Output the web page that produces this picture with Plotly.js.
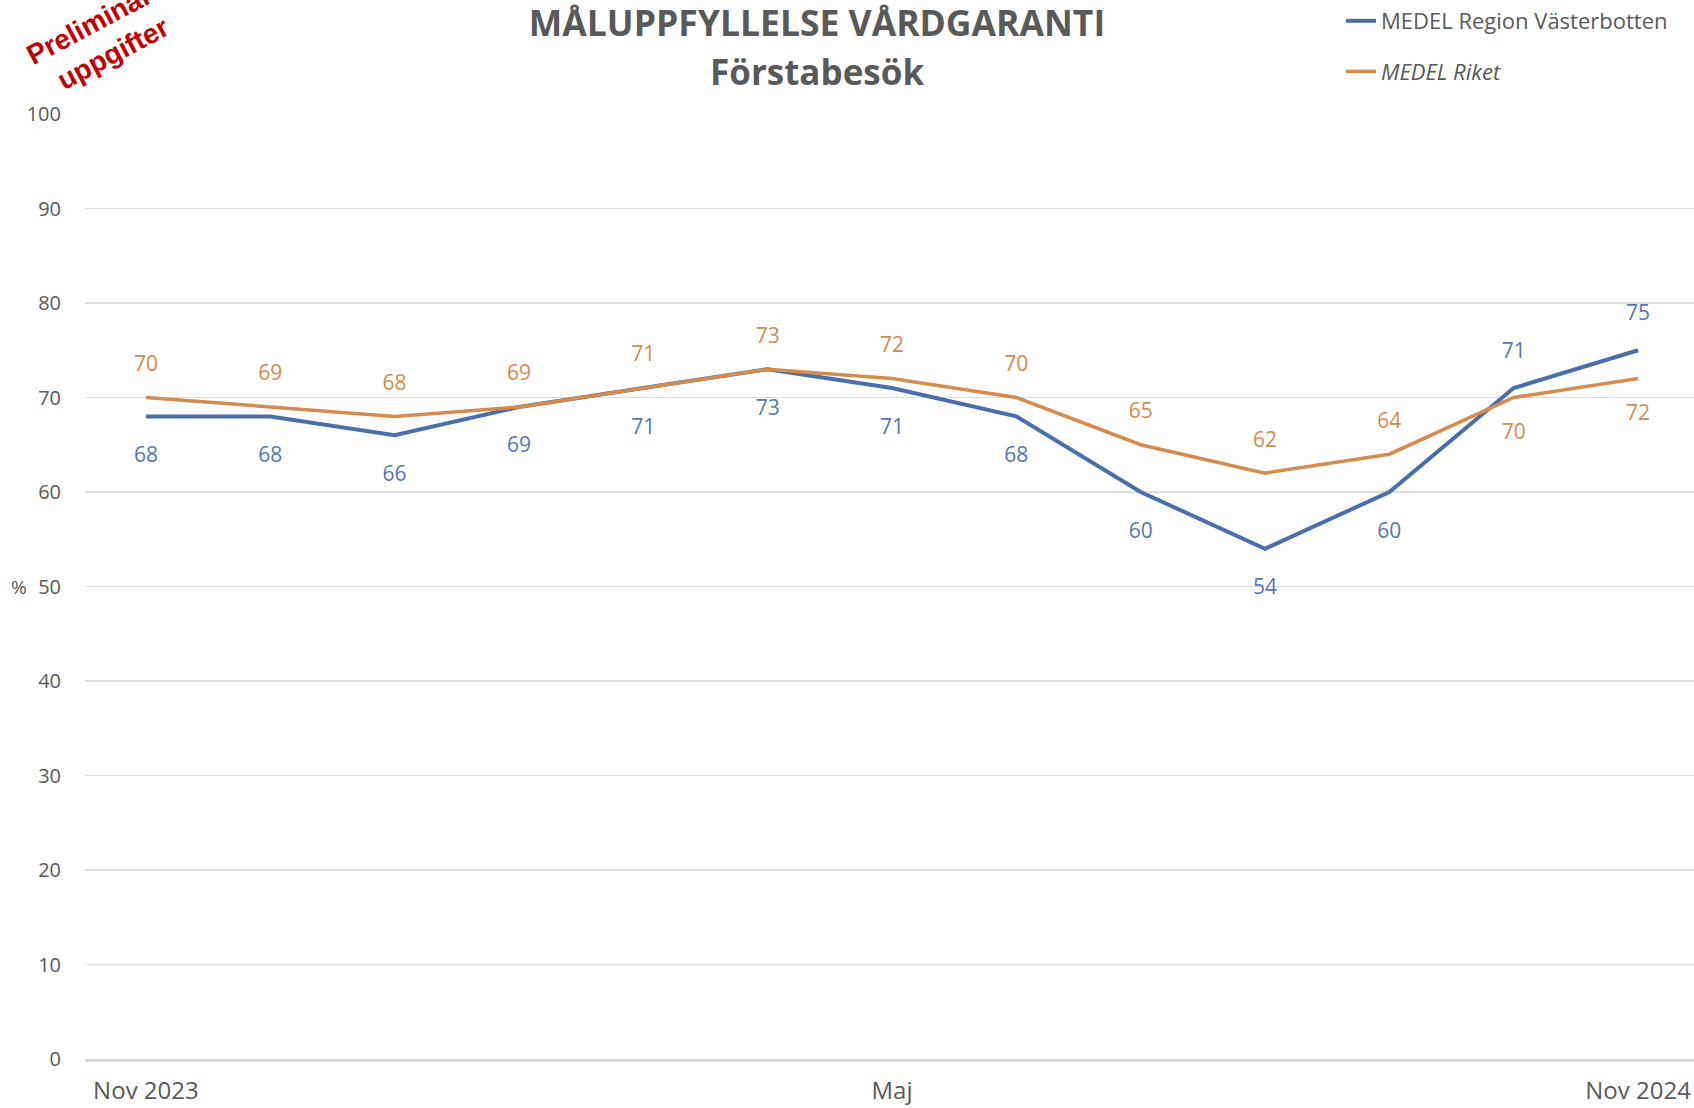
<!DOCTYPE html>
<html>
<head>
<meta charset="utf-8">
<script src="https://cdn.plot.ly/plotly-3.0.1.min.js"></script>
<style>
  html, body { margin: 0; padding: 0; background: #ffffff; }
  #chart { width: 1694px; height: 1108px; }
</style>
</head>
<body>
<div id="chart"></div>
<script>
// ---- Data ----
const months = ["Nov 2023", "Dec 2023", "Jan 2024", "Feb 2024", "Mar 2024", "Apr 2024",
                "Maj 2024", "Jun 2024", "Jul 2024", "Aug 2024", "Sep 2024", "Okt 2024", "Nov 2024"];
const regionVasterbotten = [68, 68, 66, 69, 71, 73, 71, 68, 60, 54, 60, 71, 75];
const riket = [70, 69, 68, 69, 71, 73, 72, 70, 65, 62, 64, 70, 72];
const tickMonths = ["Nov 2023", "Maj 2024", "Nov 2024"];
const tickLabels = ["Nov 2023", "Maj", "Nov 2024"];
const seriesNames = ["MEDEL Region Västerbotten", "MEDEL Riket"];
const titleText = "MÅLUPPFYLLELSE VÅRDGARANTI";
const subtitleText = "Förstabesök";
const stampText = "Preliminära<br>uppgifter";

// ---- Styles ----
const blue = "#4a6ea9";
const blueText = "#5477b0";
const orange = "#d58b4d";
const orangeText = "#d48a4e";
const grey = "#595959";
const bodyFont = "'Open Sans', 'Liberation Sans', sans-serif";
const titleFont = "'Open Sans', 'Liberation Sans', sans-serif";

// label placement: the higher series gets its label above, the other below
const bluePos = regionVasterbotten.map((v, i) => v > riket[i] ? "top center" : "bottom center");
const orangePos = riket.map((v, i) => regionVasterbotten[i] > v ? "bottom center" : "top center");
// invisible marker sizes only control the label gap from the line
const blueGap = bluePos.map(p => p.startsWith("top") ? 38 : 46);
const orangeGap = orangePos.map(p => p.startsWith("top") ? 32.5 : 40);

const traces = [
  {
    x: months, y: regionVasterbotten, name: seriesNames[0], legendgroup: "a",
    type: "scatter", mode: "lines+markers+text",
    line: { color: blue, width: 4 },
    marker: { size: blueGap, opacity: 0, color: "rgba(0,0,0,0)", line: { width: 0 } },
    text: regionVasterbotten.map(String), textposition: bluePos,
    textfont: { family: bodyFont, size: 21, color: blueText },
    cliponaxis: false
  },
  {
    x: months, y: riket, name: "<i>" + seriesNames[1] + "</i>", legendgroup: "b",
    type: "scatter", mode: "lines+markers+text",
    line: { color: orange, width: 3.5 },
    marker: { size: orangeGap, opacity: 0, color: "rgba(0,0,0,0)", line: { width: 0 } },
    text: riket.map(String), textposition: orangePos,
    textfont: { family: bodyFont, size: 21, color: orangeText },
    cliponaxis: false
  }
];

const layout = {
  width: 1694, height: 1108,
  paper_bgcolor: "#ffffff", plot_bgcolor: "#ffffff",
  margin: { l: 85, r: 0, t: 114, b: 49, autoexpand: false },
  font: { family: bodyFont, color: grey },
  title: {
    text: "<b>" + titleText + "</b>",
    font: { family: titleFont, size: 35.5, color: grey },
    x: 817 / 1694, xanchor: "center", xref: "container",
    y: 1 - 24 / 1108, yanchor: "middle", yref: "container"
  },
  showlegend: true,
  legend: {
    x: 1341 / 1694, xref: "container", xanchor: "left",
    y: 1 - 0 / 1108, yref: "container", yanchor: "top",
    bgcolor: "rgba(0,0,0,0)", borderwidth: 0,
    font: { family: bodyFont, size: 22, color: grey },
    tracegroupgap: 19
  },
  xaxis: {
    type: "category",
    range: [-0.49, 12.45],
    tickvals: tickMonths, ticktext: tickLabels,
    tickfont: { family: bodyFont, size: 24, color: grey },
    ticks: "outside", ticklen: 9, tickcolor: "rgba(0,0,0,0)",
    showgrid: false, zeroline: false,
    showline: true, linecolor: "#d6d6d6", linewidth: 2.5,
    fixedrange: true
  },
  yaxis: {
    range: [0, 100], dtick: 10, tick0: 0,
    tickfont: { family: bodyFont, size: 20, color: grey },
    ticks: "outside", ticklen: 19, tickcolor: "rgba(0,0,0,0)",
    showgrid: true, gridcolor: "#dcdcdc", gridwidth: 1.5,
    zeroline: false, showline: false,
    fixedrange: true
  },
  annotations: [
    {
      text: "<b>" + subtitleText + "</b>",
      xref: "paper", yref: "paper",
      x: (817 - 85) / 1609, y: (1059 - 71) / 945,
      xanchor: "center", yanchor: "middle", showarrow: false,
      font: { family: titleFont, size: 35, color: grey }
    },
    {
      text: "%",
      xref: "paper", yref: "paper",
      x: (19 - 85) / 1609, y: 0.5,
      xanchor: "center", yanchor: "middle", showarrow: false,
      font: { family: bodyFont, size: 19, color: grey }
    },
    {
      text: "<b>" + stampText + "</b>",
      xref: "paper", yref: "paper",
      x: (104 - 85) / 1609, y: (1059 - 37) / 945,
      xanchor: "center", yanchor: "middle", showarrow: false,
      textangle: -28,
      font: { family: "'Liberation Sans', Arial, sans-serif", size: 28, color: "#c00000" }
    }
  ]
};

Plotly.newPlot("chart", traces, layout, { displayModeBar: false, staticPlot: true });
</script>
</body>
</html>
